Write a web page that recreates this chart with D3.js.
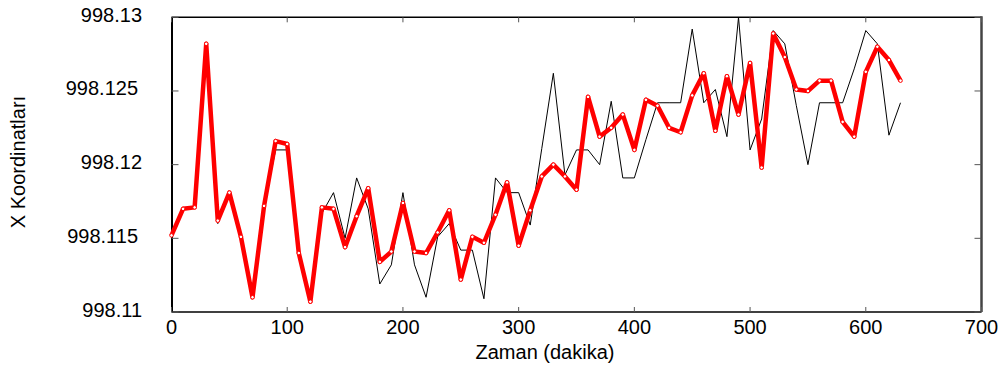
<!DOCTYPE html>
<html><head><meta charset="utf-8">
<script src="https://cdn.jsdelivr.net/npm/d3@7"></script>
<style>body{margin:0;background:#fff}svg{display:block}text{font-family:"Liberation Sans",Arial,sans-serif;fill:#000}</style>
</head><body><svg id="c" width="1001" height="366"></svg>
<script>
const times = d3.range(0, 640, 10); // 0..630 every 10 minutes
const redValues = [998.1152,998.1170,998.1171,998.1282,998.1162,998.1181,998.1151,998.1110,998.1172,998.1216,
998.1214,998.1140,998.1107,998.1171,998.1170,998.1144,998.1165,998.1184,998.1134,998.1141,
998.1174,998.1141,998.1140,998.1154,998.1169,998.1122,998.1151,998.1147,998.1166,998.1188,
998.1145,998.1169,998.1192,998.1200,998.1192,998.1183,998.1246,998.1219,998.1225,998.1234,
998.1210,998.1244,998.1240,998.1225,998.1222,998.1247,998.1262,998.1223,998.1260,998.1234,
998.1269,998.1198,998.1289,998.1273,998.1251,998.1250,998.1257,998.1257,998.1229,998.1219,
998.1263,998.1280,998.1271,998.1257];
const blackValues = [998.1150,998.1170,998.1171,998.1282,998.1160,998.1181,998.1150,998.1109,998.1172,998.1210,
998.1210,998.1140,998.1107,998.1167,998.1181,998.1150,998.1191,998.1170,998.1119,998.1132,
998.1181,998.1132,998.1110,998.1151,998.1160,998.1142,998.1142,998.1109,998.1191,998.1181,
998.1181,998.1159,998.1211,998.1262,998.1193,998.1210,998.1210,998.1200,998.1243,998.1191,
998.1191,998.1217,998.1242,998.1242,998.1242,998.1292,998.1242,998.1251,998.1219,998.1300,
998.1210,998.1231,998.1291,998.1282,998.1240,998.1200,998.1242,998.1242,998.1242,998.1265,
998.1291,998.1282,998.1220,998.1242];
const xTicks = [0,100,200,300,400,500,600,700];
const yTicks = [998.11,998.115,998.12,998.125,998.13];
const yTickLabels = ["998.11","998.115","998.12","998.125","998.13"];
const xTitle = "Zaman (dakika)";
const yTitle = "X Koordinatları";

const L=171.5, R=981.5, T=17.3, B=312;
const svg = d3.select("#c");
const x = d3.scaleLinear().domain([0,700]).range([L,R]);
const y = d3.scaleLinear().domain([998.11,998.13]).range([B,T]);

// frame
svg.append("line").attr("x1",L).attr("x2",R).attr("y1",T).attr("y2",T).attr("stroke","#000").attr("stroke-width",1.5);
svg.append("line").attr("x1",L).attr("x2",R).attr("y1",B).attr("y2",B).attr("stroke","#000").attr("stroke-width",1.5);
svg.append("line").attr("x1",L+0.5).attr("x2",L+0.5).attr("y1",T).attr("y2",B).attr("stroke","#000").attr("stroke-width",2);
svg.append("line").attr("x1",R).attr("x2",R).attr("y1",T-1).attr("y2",B).attr("stroke","#444").attr("stroke-width",2.5);

// ticks inward
const tk = svg.append("g").attr("stroke","#555").attr("stroke-width",1);
xTicks.forEach(t=>{
  tk.append("line").attr("x1",x(t)).attr("x2",x(t)).attr("y1",B).attr("y2",B-5);
  tk.append("line").attr("x1",x(t)).attr("x2",x(t)).attr("y1",T).attr("y2",T+5);
});
yTicks.forEach(t=>{
  tk.append("line").attr("x1",L).attr("x2",L+7).attr("y1",y(t)).attr("y2",y(t));
  tk.append("line").attr("x1",R-7).attr("x2",R).attr("y1",y(t)).attr("y2",y(t));
});

// tick labels
svg.append("g").selectAll("text").data(xTicks).join("text")
  .attr("x",d=>x(d)).attr("y",334).attr("text-anchor","middle").attr("font-size",20).text(d=>d);
svg.append("g").selectAll("text").data(yTicks).join("text")
  .attr("x",(d,i)=>yTickLabels[i].length===7?138:142).attr("y",d=>y(d)+4.5).attr("text-anchor","end").attr("font-size",20)
  .text((d,i)=>yTickLabels[i]);

// titles
svg.append("text").attr("x",545).attr("y",359).attr("text-anchor","middle").attr("font-size",20).text(xTitle);
svg.append("text").attr("transform","translate(25,162) rotate(-90)").attr("text-anchor","middle").attr("font-size",20).text(yTitle);

// series
const lineGen = d3.line().x((d,i)=>x(times[i])).y(d=>y(d));
svg.append("path").datum(blackValues).attr("d",lineGen).attr("fill","none").attr("stroke","#000").attr("stroke-width",1);
svg.append("path").datum(redValues).attr("d",lineGen).attr("fill","none").attr("stroke","#ff0000").attr("stroke-width",4.5).attr("stroke-linejoin","round");
svg.append("g").selectAll("circle").data(redValues).join("circle")
  .attr("cx",(d,i)=>x(times[i])).attr("cy",d=>y(d)).attr("r",1.8)
  .attr("fill","#fff").attr("stroke","#ff0000").attr("stroke-width",1);
</script></body></html>
